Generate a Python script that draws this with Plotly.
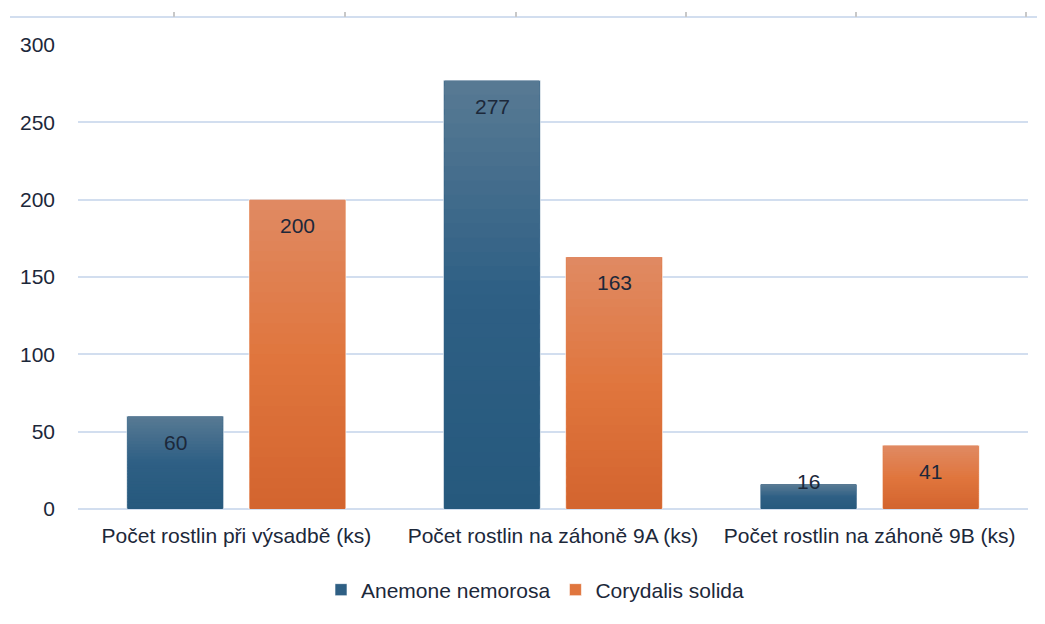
import plotly.graph_objects as go

# data
categories = ['Počet rostlin při výsadbě (ks)',
              'Počet rostlin na záhoně 9A (ks)',
              'Počet rostlin na záhoně 9B (ks)']
anemone = [60, 277, 16]
corydalis = [200, 163, 41]
y_ticks = [0, 50, 100, 150, 200, 250, 300]

TEXT = '#1c283a'
GRID = '#d2deef'
FONT = 'Liberation Sans'

# page has an 8px body margin, so the figure is drawn from (8, 8)
PAGE = 8
W, H = 1045 - PAGE, 624 - PAGE
# plot area in page pixels (for decorations / legend placement)
L, R, T, B = 78, 1028, 45, 509

# excel-like vertical gradients: bottom, middle, top
BLUE = [(38, 89, 125), (46, 95, 132), (88, 122, 148)]
ORANGE = [(211, 100, 46), (224, 118, 62), (224, 138, 99)]
BANDS = 30


def px_x(x):
    return (x - L) / (R - L)


def px_y(y):
    return (B - y) / (B - T)


def grad(stops, t):
    a, b, s = (stops[0], stops[1], t * 2) if t < 0.5 else (stops[1], stops[2], t * 2 - 1)
    return 'rgb(%d,%d,%d)' % tuple(round(a[i] + (b[i] - a[i]) * s) for i in range(3))


fig = go.Figure()
series = [('Anemone nemorosa', anemone, BLUE, -0.346),
          ('Corydalis solida', corydalis, ORANGE, 0.040)]
for name, vals, stops, off in series:
    fig.add_trace(go.Bar(name=name, x=categories, y=vals,
                         marker=dict(color=grad(stops, 0.5),
                                     line=dict(width=1, color='rgba(255,255,255,0.6)')),
                         width=0.306, offset=off, hoverinfo='skip'))
    # gradient bands, each overlapping the next one a little to hide seams
    for k in range(BANDS):
        base = [v * k / BANDS for v in vals]
        fig.add_trace(go.Bar(x=categories,
                             y=[min(v / BANDS * 1.6, v - b0) for v, b0 in zip(vals, base)],
                             base=base,
                             marker=dict(color=grad(stops, (k + 0.5) / BANDS),
                                         line=dict(width=0)),
                             width=0.300, offset=off + 0.003,
                             showlegend=False, hoverinfo='skip'))

# data labels, excel style "inside end"
for vals, shift in ((anemone, -61), (corydalis, 61)):
    for cat, v in zip(categories, vals):
        bar_px = v / 300 * (B - T)
        fig.add_annotation(x=cat, y=v, xref='x', yref='y', text=str(v),
                           showarrow=False, xshift=shift,
                           yshift=-26 if bar_px > 40 else 3,
                           yanchor='middle',
                           font=dict(family=FONT, size=21, color=TEXT))

# remains of the chart above (top rule with tick marks)
shapes = [dict(type='line', xref='paper', yref='paper',
               x0=px_x(10), x1=px_x(1045), y0=px_y(17), y1=px_y(17),
               line=dict(color=GRID, width=2))]
for tx in (174, 345, 516, 686, 856, 1026):
    shapes.append(dict(type='line', xref='paper', yref='paper',
                       x0=px_x(tx), x1=px_x(tx), y0=px_y(12), y1=px_y(17),
                       line=dict(color='#c8c8c8', width=2)))

fig.update_layout(
    width=W, height=H,
    margin=dict(l=L - PAGE, r=W - (R - PAGE), t=T - PAGE, b=H - (B - PAGE)),
    paper_bgcolor='white', plot_bgcolor='white',
    font=dict(family=FONT, size=21, color=TEXT),
    barmode='overlay',
    shapes=shapes,
    showlegend=True,
    legend=dict(orientation='h', x=px_x(535), xanchor='center',
                y=px_y(590), yanchor='middle',
                font=dict(family=FONT, size=21, color=TEXT),
                itemwidth=30),
    xaxis=dict(showgrid=False, showline=False, ticks='',
               ticklabelstandoff=12,
               tickfont=dict(family=FONT, size=21, color=TEXT)),
    yaxis=dict(range=[0, 300], tickvals=y_ticks,
               showgrid=True, gridcolor=GRID, gridwidth=2,
               zeroline=True, zerolinecolor=GRID, zerolinewidth=2,
               showline=False, ticks='', ticklabelstandoff=22,
               tickfont=dict(family=FONT, size=21, color=TEXT)),
)

fig.write_html("out.html")
